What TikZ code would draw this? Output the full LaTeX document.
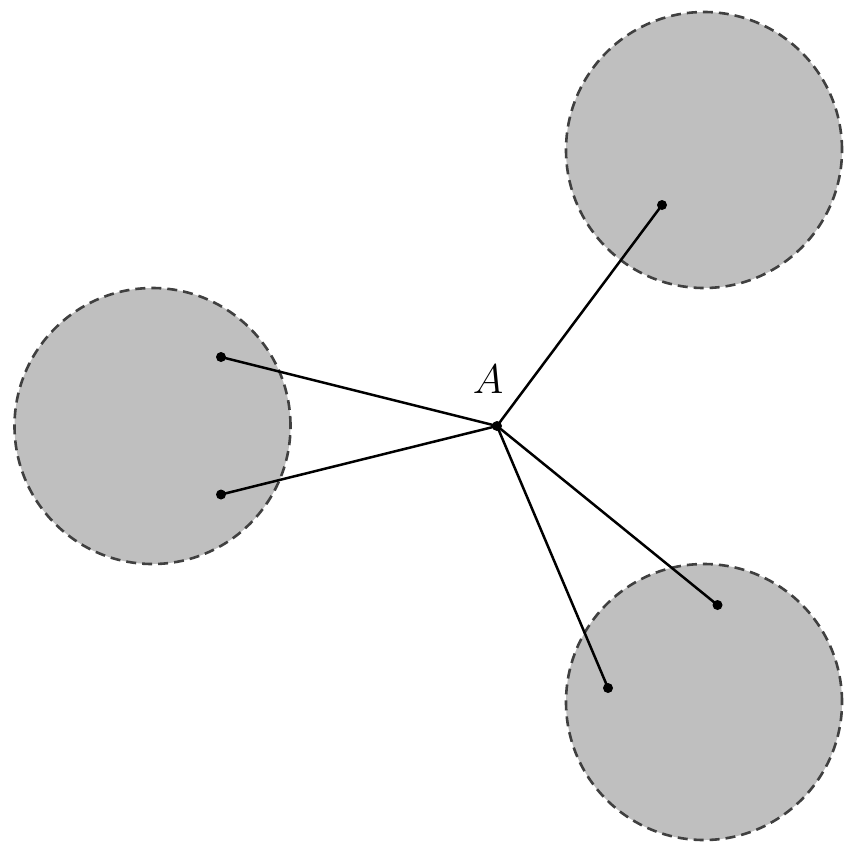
\documentclass[tikz,border=0pt]{standalone}
\usetikzlibrary{positioning}
\definecolor{blobfill}{RGB}{191,191,191}
\definecolor{blobedge}{RGB}{64,64,64}
\tikzset{
  blob/.style={circle, fill=blobfill, draw=blobedge, line width=1.3pt, dash pattern=on 5pt off 3pt, minimum size=138pt, inner sep=0pt},
  dotnode/.style={circle, fill=black, inner sep=0pt, minimum size=5pt},
  link/.style={line width=1.25pt, black},
}
\begin{document}
\begin{tikzpicture}[x=0.5pt,y=-0.5pt]
\useasboundingbox (0,0) rectangle (855,852);
\node[blob] (c1) at (704,150) {};
\node[blob] (c2) at (152.5,426) {};
\node[blob] (c3) at (704,702) {};
\node[dotnode] (A) at (497,426) {};
\node[font=\fontsize{20}{24}\selectfont] (lA) at (488,379) {$A$};
\node[dotnode] (p1) at (662,205) {};
\node[dotnode] (p2) at (221,357) {};
\node[dotnode] (p3) at (221,494.5) {};
\node[dotnode] (p4) at (717.5,605) {};
\node[dotnode] (p5) at (608,688) {};
\draw[link] (A.center) -- (p1.center);
\draw[link] (A.center) -- (p2.center);
\draw[link] (A.center) -- (p3.center);
\draw[link] (A.center) -- (p4.center);
\draw[link] (A.center) -- (p5.center);
\end{tikzpicture}
\end{document}
